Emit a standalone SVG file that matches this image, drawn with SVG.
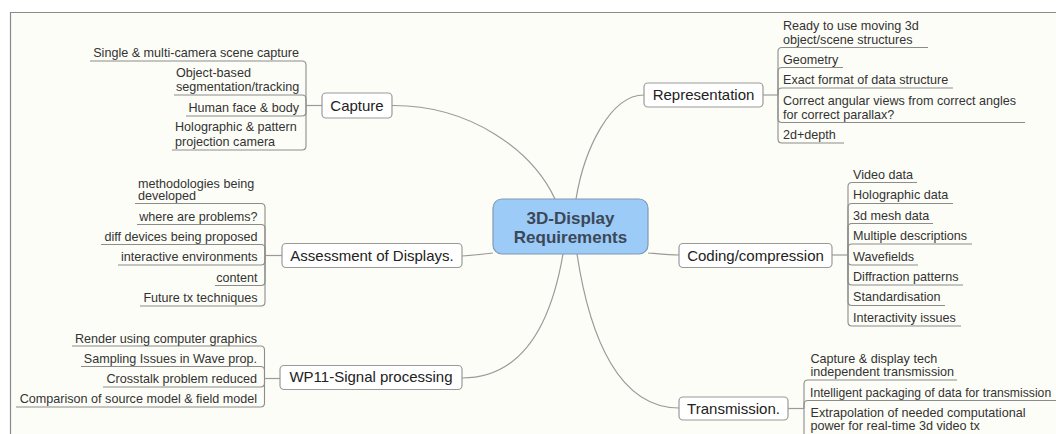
<svg xmlns="http://www.w3.org/2000/svg" width="1056" height="434" viewBox="0 0 1056 434">
<style>
.main rect{fill:#ffffff;stroke:#9a9a9a;stroke-width:1.2}
.main text{font-family:"Liberation Sans",Arial,sans-serif;font-size:15px;fill:#222;text-anchor:middle}
.leaf{font-family:"Liberation Sans",Arial,sans-serif;font-size:12.6px;fill:#333}
.l{text-anchor:end}
.c path,.c line{fill:none;stroke:#9a9a9a;stroke-width:1.2}
.u path{fill:none;stroke:#8c8c8c;stroke-width:1.1}
</style>
<rect x="0" y="0" width="1056" height="434" fill="#ffffff"/>
<rect x="10.5" y="12.5" width="1050" height="430" fill="#fdfdf7"/>
<path d="M10.5,434 V12.5 H1056" fill="none" stroke="#8a8a8a" stroke-width="1.2"/>

<g id="connectors" class="c">
<path d="M392,105.5 C470,105 532,150 555,199"/>
<path d="M644,95 C610,95 584,150 576,199"/>
<path d="M462,256 C475,255 485,254 493,253"/>
<path d="M648,253 C660,254 670,255 679,255"/>
<path d="M563,254 C550,330 520,378 462,378"/>
<path d="M577,254 C590,340 620,408 679,408"/>
<line x1="322" y1="105.5" x2="306" y2="105.5"/>
<line x1="282" y1="255.5" x2="265" y2="255.5"/>
<line x1="280" y1="378.5" x2="264.5" y2="378.5"/>
<line x1="763" y1="95" x2="778" y2="95"/>
<line x1="832" y1="255" x2="848" y2="255"/>
<line x1="788" y1="408.5" x2="804" y2="408.5"/>
</g>

<g id="underlines" class="u">
<path d="M306,105.5 V65 Q306,61 302,61 H90"/>
<path d="M306,105.5 V99 Q306,95 302,95 H174"/>
<path d="M306,105.5 V112 Q306,116 302,116 H186"/>
<path d="M306,105.5 V146 Q306,150 302,150 H172"/>

<path d="M265,255.5 V207.5 Q265,203.5 261,203.5 H135"/>
<path d="M265,255.5 V228.5 Q265,224.5 261,224.5 H137"/>
<path d="M265,255.5 V248.5 Q265,244.5 261,244.5 H101"/>
<path d="M265,255.5 V261 Q265,265 261,265 H118"/>
<path d="M265,255.5 V281.5 Q265,285.5 261,285.5 H215"/>
<path d="M265,255.5 V302 Q265,306 261,306 H140"/>

<path d="M264.5,378.5 V350 Q264.5,346 260.5,346 H72"/>
<path d="M264.5,378.5 V370.5 Q264.5,366.5 260.5,366.5 H81"/>
<path d="M264.5,378.5 V383 Q264.5,387 260.5,387 H103"/>
<path d="M264.5,378.5 V403 Q264.5,407 260.5,407 H16"/>

<path d="M778,95 V51.5 Q778,47.5 782,47.5 H928"/>
<path d="M778,95 V71.5 Q778,67.5 782,67.5 H843"/>
<path d="M778,95 V92 Q778,88 782,88 H953"/>
<path d="M778,95 V118.5 Q778,122.5 782,122.5 H1025"/>
<path d="M778,95 V139 Q778,143 782,143 H844"/>

<path d="M848,255 V186.5 Q848,182.5 852,182.5 H917"/>
<path d="M848,255 V207.5 Q848,203.5 852,203.5 H953"/>
<path d="M848,255 V227.5 Q848,223.5 852,223.5 H933"/>
<path d="M848,255 V248 Q848,244 852,244 H972"/>
<path d="M848,255 V261 Q848,265 852,265 H918"/>
<path d="M848,255 V281 Q848,285 852,285 H963"/>
<path d="M848,255 V301.5 Q848,305.5 852,305.5 H945"/>
<path d="M848,255 V322 Q848,326 852,326 H961"/>

<path d="M804,408.5 V384 Q804,380 808,380 H957"/>
<path d="M804,408.5 V404.5 Q804,400.5 808,400.5 H1060"/>
<path d="M804,408.5 V436 Q804,440 808,440 H1000"/>
</g>

<g id="center">
<rect x="493" y="199" width="155" height="55" rx="9" fill="#9ccbf7" stroke="#7f9ab5" stroke-width="1.2"/>
<text x="570.5" y="224" font-family="Liberation Sans,Arial,sans-serif" font-size="17" font-weight="bold" fill="#3b4858" text-anchor="middle">3D-Display</text>
<text x="570.5" y="243" font-family="Liberation Sans,Arial,sans-serif" font-size="17" font-weight="bold" fill="#3b4858" text-anchor="middle">Requirements</text>
</g>

<g id="capture" class="main"><rect x="322" y="93" width="70" height="25" rx="4"/><text x="357" y="110.5">Capture</text></g>
<g id="assessment" class="main"><rect x="282" y="243.5" width="180" height="24" rx="4"/><text x="372" y="260.5">Assessment of Displays.</text></g>
<g id="wp11" class="main"><rect x="280" y="365.5" width="182" height="24" rx="4"/><text x="371" y="382">WP11-Signal processing</text></g>
<g id="representation" class="main"><rect x="644" y="83" width="119" height="24" rx="4"/><text x="703.5" y="100">Representation</text></g>
<g id="coding" class="main"><rect x="679" y="243.5" width="153" height="24" rx="4"/><text x="755.5" y="260.5">Coding/compression</text></g>
<g id="transmission" class="main"><rect x="679" y="397" width="109" height="23" rx="4"/><text x="733.5" y="413.5">Transmission.</text></g>

<g id="capture-leaves" class="leaf">
<text x="299" y="57" class="l">Single &amp; multi-camera scene capture</text>
<text x="176" y="76.5">Object-based</text>
<text x="176" y="91">segmentation/tracking</text>
<text x="299" y="111.5" class="l">Human face &amp; body</text>
<text x="175" y="131">Holographic &amp; pattern</text>
<text x="175" y="146">projection camera</text>
</g>

<g id="assessment-leaves" class="leaf">
<text x="138" y="187.5">methodologies being</text>
<text x="138" y="199.5">developed</text>
<text x="257.5" y="220.5" class="l">where are problems?</text>
<text x="257.5" y="240.5" class="l">diff devices being proposed</text>
<text x="257.5" y="261" class="l">interactive environments</text>
<text x="257.5" y="281.5" class="l">content</text>
<text x="257.5" y="301.5" class="l">Future tx techniques</text>
</g>

<g id="wp11-leaves" class="leaf">
<text x="257" y="342.5" class="l">Render using computer graphics</text>
<text x="257" y="363" class="l">Sampling Issues in Wave prop.</text>
<text x="257" y="383" class="l">Crosstalk problem reduced</text>
<text x="257" y="403" class="l">Comparison of source model &amp; field model</text>
</g>

<g id="representation-leaves" class="leaf">
<text x="783" y="30">Ready to use moving 3d</text>
<text x="783" y="43.5">object/scene structures</text>
<text x="783" y="64">Geometry</text>
<text x="783" y="84">Exact format of data structure</text>
<text x="783" y="104.5">Correct angular views from correct angles</text>
<text x="783" y="118.5">for correct parallax?</text>
<text x="783" y="139">2d+depth</text>
</g>

<g id="coding-leaves" class="leaf">
<text x="853" y="178.5">Video data</text>
<text x="853" y="199">Holographic data</text>
<text x="853" y="219.5">3d mesh data</text>
<text x="853" y="240">Multiple descriptions</text>
<text x="853" y="261">Wavefields</text>
<text x="853" y="281">Diffraction patterns</text>
<text x="853" y="301">Standardisation</text>
<text x="853" y="322">Interactivity issues</text>
</g>

<g id="transmission-leaves" class="leaf">
<text x="810.5" y="363">Capture &amp; display tech</text>
<text x="810.5" y="375.5">independent transmission</text>
<text x="810" y="396.5" font-size="12.2">Intelligent packaging of data for transmission</text>
<text x="810.5" y="417">Extrapolation of needed computational</text>
<text x="810.5" y="429.5">power for real-time 3d video tx</text>
</g>
</svg>
